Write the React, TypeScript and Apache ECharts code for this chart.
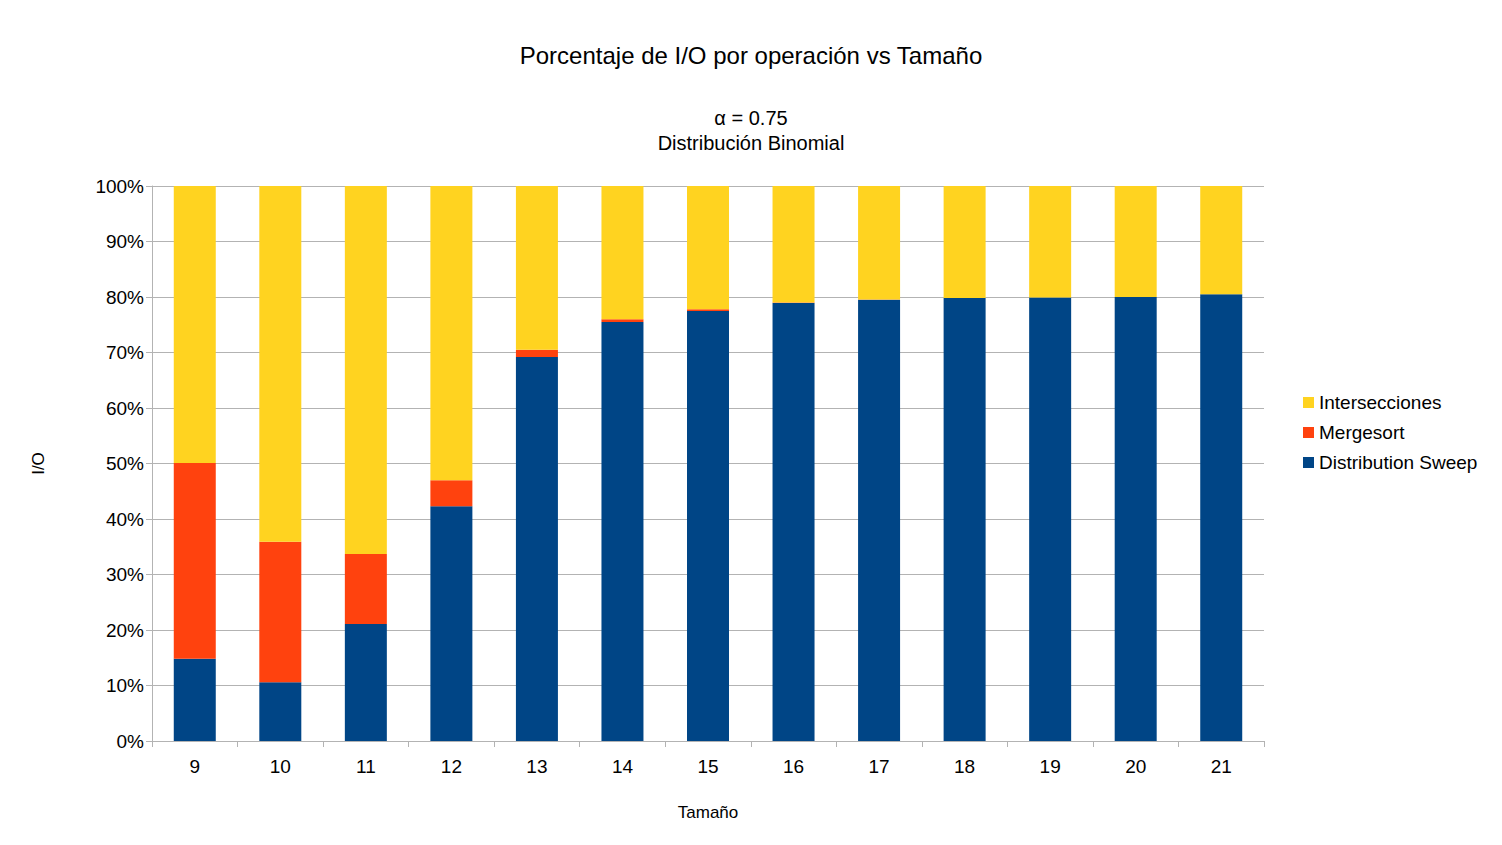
import React, { useEffect, useRef } from "react";
import * as echarts from "echarts";

const categories = ["9", "10", "11", "12", "13", "14", "15", "16", "17", "18", "19", "20", "21"];
const distributionSweep = [14.8, 10.6, 21.1, 42.3, 69.2, 75.5, 77.5, 78.9, 79.5, 79.8, 79.9, 80.0, 80.5];
const mergesort = [35.3, 25.3, 12.6, 4.7, 1.3, 0.5, 0.3, 0.1, 0.05, 0.03, 0.02, 0.01, 0.01];
const intersecciones = distributionSweep.map((d, i) => Math.max(0, 100 - d - mergesort[i]));

const FONT = "Liberation Sans";

const App: React.FC = () => {
  const chartRef = useRef<HTMLDivElement | null>(null);

  useEffect(() => {
    document.body.style.margin = "0";
    if (!chartRef.current) return;
    const chart = echarts.init(chartRef.current, undefined, { renderer: "svg" });
    chart.setOption({
      animation: false,
      textStyle: { fontFamily: FONT },
      title: [
        {
          text: "Porcentaje de I/O por operación vs Tamaño",
          left: "center",
          top: 38,
          textStyle: { fontSize: 24, fontWeight: "normal", color: "#000", fontFamily: FONT },
        },
        {
          text: "α = 0.75\nDistribución Binomial",
          left: "center",
          top: 100,
          textStyle: { fontSize: 20, fontWeight: "normal", color: "#000", lineHeight: 25, fontFamily: FONT },
        },
      ],
      legend: {
        orient: "vertical",
        left: 1298,
        top: 388,
        itemWidth: 11,
        itemHeight: 11,
        itemGap: 11,
        icon: "rect",
        textStyle: { fontSize: 19, color: "#000", fontFamily: FONT },
        data: ["Intersecciones", "Mergesort", "Distribution Sweep"],
      },
      grid: { left: 152, right: 238, top: 186, bottom: 104 },
      xAxis: {
        type: "category",
        data: categories,
        name: "Tamaño",
        nameLocation: "middle",
        nameGap: 63,
        nameTextStyle: { fontSize: 17, color: "#000" },
        axisLine: { lineStyle: { color: "#b3b3b3" } },
        axisTick: { show: true, length: 6, lineStyle: { color: "#b3b3b3" } },
        axisLabel: { fontSize: 19, color: "#000", margin: 16 },
      },
      yAxis: {
        type: "value",
        min: 0,
        max: 100,
        interval: 10,
        name: "I/O",
        nameLocation: "middle",
        nameGap: 105,
        nameTextStyle: { fontSize: 17, color: "#000" },
        axisLine: { show: true, lineStyle: { color: "#b3b3b3" } },
        axisTick: { show: true, length: 6, lineStyle: { color: "#b3b3b3" } },
        axisLabel: { fontSize: 19, color: "#000", formatter: "{value}%" },
        splitLine: { lineStyle: { color: "#b3b3b3" } },
      },
      series: [
        { name: "Distribution Sweep", type: "bar", stack: "t", data: distributionSweep, barWidth: 42, itemStyle: { color: "#004586" } },
        { name: "Mergesort", type: "bar", stack: "t", data: mergesort, itemStyle: { color: "#ff420e" } },
        { name: "Intersecciones", type: "bar", stack: "t", data: intersecciones, itemStyle: { color: "#ffd320" } },
      ],
    });
    return () => chart.dispose();
  }, []);

  return <div ref={chartRef} style={{ width: 1502, height: 845, background: "#fff" }} />;
};

export default App;
